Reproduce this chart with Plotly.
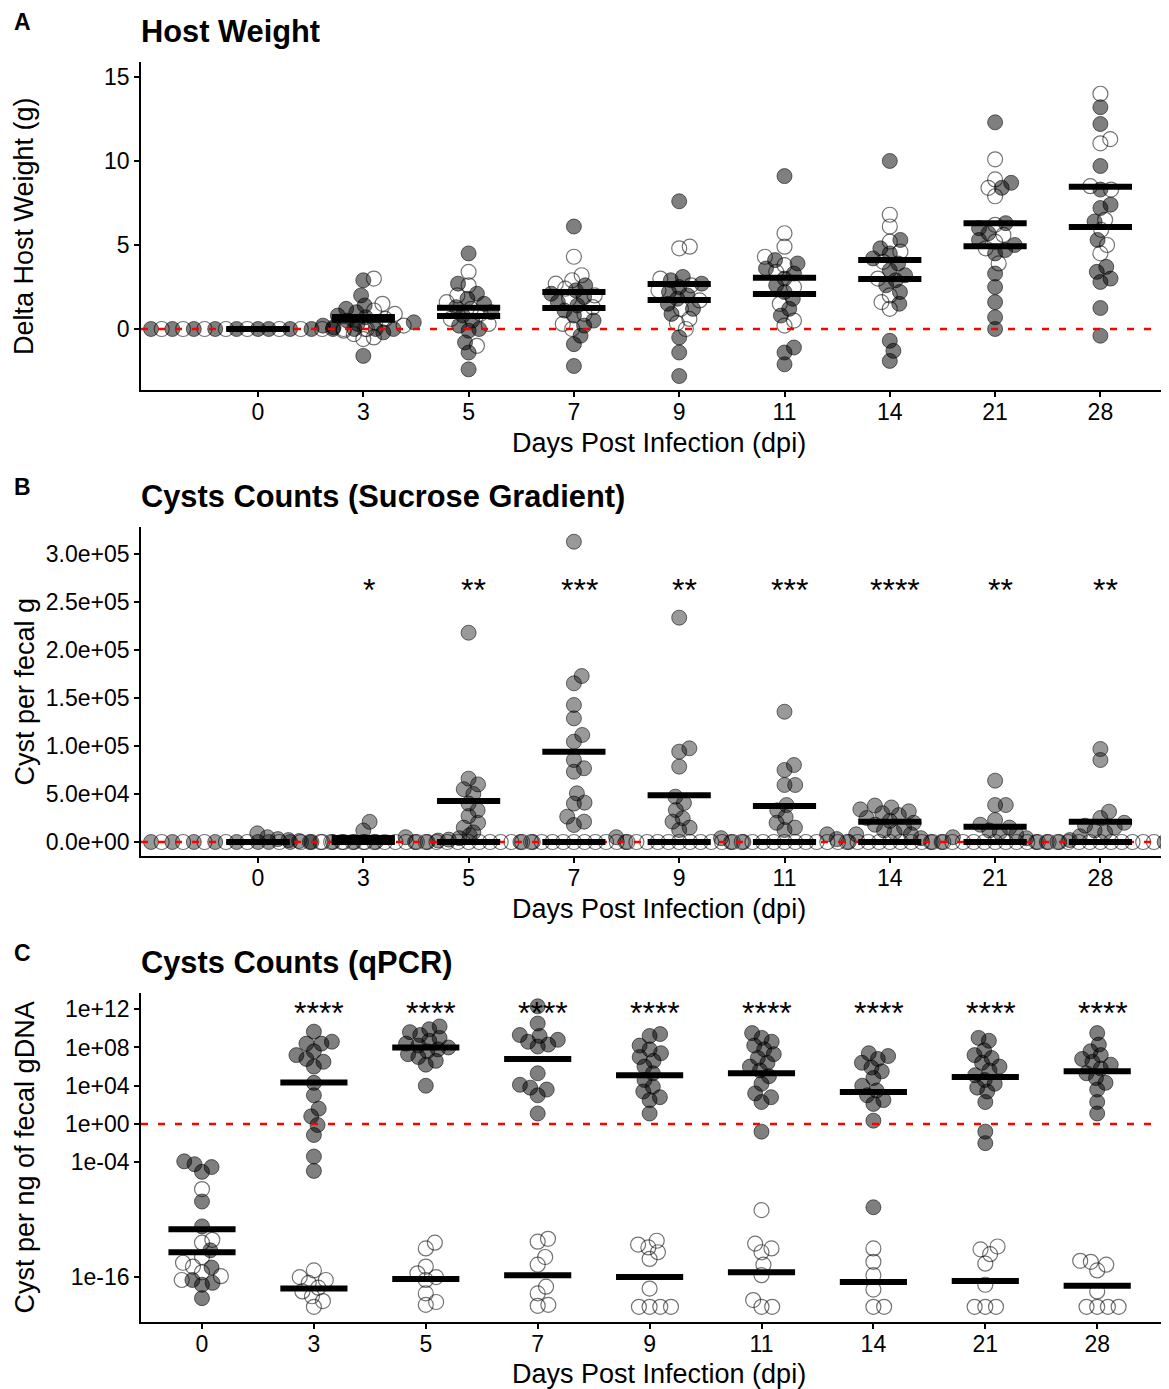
import math
import plotly.graph_objects as go

# ---------------- data ----------------
DAYS = ["0", "3", "5", "7", "9", "11", "14", "21", "28"]

# Panel A: delta host weight (g)
weight_infected = [
    [0] * 12,
    [2.9, 2.0, 1.4, 1.2, 1.0, 0.8, 0.7, 0.5, 0.4, 0.3, 0.2, 0.1, 0.0, -0.2, -1.6],
    [4.5, 2.7, 2.1, 1.8, 1.5, 1.3, 1.0, 0.8, 0.5, 0.2, 0.0, -0.1, -0.8, -1.4, -2.4],
    [6.1, 2.6, 2.3, 2.1, 1.9, 1.6, 1.4, 1.1, 0.8, 0.5, 0.2, -0.4, -0.9, -2.2],
    [7.6, 3.1, 2.9, 2.7, 2.5, 2.2, 2.0, 1.8, 1.5, 1.2, 0.9, -0.5, -1.4, -2.8],
    [9.1, 4.1, 3.9, 3.6, 3.3, 3.0, 2.6, 2.2, 1.8, 1.2, 0.8, -1.1, -1.4, -2.1],
    [10.0, 5.3, 4.8, 4.5, 4.2, 3.9, 3.5, 3.2, 2.9, 2.6, 2.2, 1.5, -0.7, -1.3, -1.9],
    [12.3, 8.7, 8.4, 6.3, 6.0, 5.7, 5.3, 5.0, 4.7, 4.5, 3.3, 2.5, 1.6, 0.7, 0.0],
    [13.2, 12.2, 9.7, 8.3, 7.4, 7.2, 6.4, 5.3, 3.7, 3.4, 3.0, 2.8, 1.25, -0.4],
]
weight_uninfected = [
    [0] * 10,
    [3.0, 1.5, 1.1, 0.9, 0.6, 0.4, 0.2, 0.0, -0.1, -0.3, -0.5, -0.6],
    [3.4, 2.6, 2.0, 1.6, 1.2, 0.9, 0.6, 0.3, -1.0],
    [4.3, 3.2, 2.9, 2.7, 2.4, 2.0, 1.8, 1.3, 0.9, 0.3, 0.0],
    [4.8, 4.9, 3.0, 2.6, 2.3, 1.7, 1.2, 0.6, 0.35, 0.0],
    [5.7, 4.9, 4.3, 3.8, 3.4, 2.5, 1.5, 0.5, 0.2],
    [6.8, 6.1, 5.2, 4.6, 4.0, 3.0, 2.0, 1.6, 1.2],
    [10.1, 8.9, 8.4, 7.9, 6.2, 5.6, 5.2, 4.8, 3.9],
    [14.0, 11.3, 11.05, 8.5, 8.3, 6.5, 5.9, 5.0, 4.5],
]
weight_mean_infected = [0, 0.55, 0.77, 1.25, 1.73, 2.08, 2.98, 4.93, 6.07]
weight_mean_uninfected = [0, 0.72, 1.27, 2.2, 2.68, 3.05, 4.1, 6.3, 8.47]

# Panel B: cysts per fecal g (sucrose gradient)
cyst_infected = [
    [0] * 12,
    [21000, 12000, 9000, 7000, 5000, 4000, 3000, 2500, 2000, 1500, 1000, 0, 0],
    [218000, 66000, 60000, 55000, 50000, 40000, 33000, 27000, 20000, 15000, 10000, 5000, 0, 0],
    [312800, 172900, 165300, 142700, 128800, 111500, 104500, 85400, 76800, 73200,
     50700, 41000, 40000, 26400, 21200, 17700, 0],
    [233700, 97600, 94100, 78500, 47200, 40600, 33300, 24700, 21200, 15000, 12500, 5000, 0, 0],
    [135700, 80200, 75000, 59400, 59400, 38500, 33000, 26000, 20000, 15000, 12500, 8000, 4000, 0, 0],
    [38000, 36000, 34000, 32000, 30000, 28000, 25000, 22000, 20000, 18000, 15000, 12000,
     10000, 8000, 5000, 3000],
    [63900, 38500, 38500, 22900, 18000, 15000, 12000, 10000, 8000, 6000, 4000, 2000, 0, 0, 0],
    [96900, 85400, 31600, 25000, 20000, 17000, 15000, 12000, 10000, 8000, 6000, 4000, 2000, 0, 0, 0],
]
cyst_uninfected = [[0] * 10 for _ in DAYS]
cyst_mean_infected = [0, 4200, 42700, 94100, 48600, 37500, 21200, 16000, 21200]
cyst_mean_uninfected = [0] * 9
cyst_signif = ["", "*", "**", "***", "**", "***", "****", "**", "**"]

# Panel C: log10 cysts per ng of fecal gDNA (qPCR)
qpcr_log_infected = [
    [-3.9, -4.2, -4.5, -5.0, -8.1, -10.7, -13.2, -15.0, -16.3, -16.6, -16.8, -18.2],
    [9.65, 8.6, 8.4, 8.4, 7.6, 7.2, 6.8, 6.5, 6.0, 4.3, 3.0, 1.6, 0.8, -0.1, -1.15, -3.4, -4.9],
    [10.2, 9.9, 9.6, 9.3, 9.0, 8.7, 8.4, 8.2, 8.0, 7.8, 7.6, 7.3, 7.0, 6.6, 6.2, 4.0],
    [12.3, 10.5, 9.3, 9.2, 8.8, 8.6, 8.3, 8.1, 5.3, 4.1, 3.8, 3.6, 3.0, 1.1],
    [9.4, 9.2, 8.2, 7.8, 7.4, 7.0, 6.6, 6.0, 5.3, 4.6, 3.9, 3.4, 2.8, 2.5, 1.1],
    [9.5, 9.0, 8.6, 8.2, 7.8, 7.3, 6.9, 6.4, 6.0, 5.6, 5.0, 4.2, 3.2, 2.8, 2.3, -0.8],
    [7.4, 7.1, 6.8, 6.4, 5.9, 5.5, 4.8, 4.0, 3.5, 3.0, 2.5, 2.1, 0.35, -8.7],
    [9.0, 8.7, 7.7, 7.2, 6.9, 6.4, 6.0, 5.6, 5.1, 4.6, 4.2, 3.8, 3.4, 2.3, -0.8, -2.0],
    [9.5, 8.3, 7.6, 7.2, 6.8, 6.5, 6.2, 5.8, 5.3, 4.8, 4.3, 3.6, 2.3, 1.1],
]
qpcr_log_uninfected = [
    [-6.8, -12.1, -12.4, -13.9, -14.5, -14.9, -15.5, -15.9, -16.3],
    [-15.3, -16.0, -16.3, -16.6, -17.1, -17.5, -18.0, -18.5, -19.1],
    [-12.4, -13.0, -14.9, -15.6, -16.0, -16.3, -17.7, -18.6, -18.9],
    [-12.0, -12.3, -13.9, -14.7, -17.0, -17.7, -18.9, -19.0],
    [-12.2, -12.6, -12.9, -13.4, -14.1, -17.2, -19.1, -19.1, -19.1, -19.1],
    [-9.0, -12.5, -13.0, -13.4, -14.7, -15.8, -18.4, -19.1, -19.1],
    [-13.0, -14.4, -15.8, -17.3, -19.1, -19.1],
    [-12.8, -13.1, -13.6, -14.6, -16.8, -19.1, -19.1, -19.1],
    [-14.3, -14.4, -14.7, -15.3, -17.5, -19.1, -19.1, -19.1, -19.1],
]
qpcr_log_mean_infected = [-11.0, 4.35, 8.0, 6.8, 5.1, 5.3, 3.35, 4.9, 5.5]
qpcr_log_mean_uninfected = [-13.4, -17.2, -16.2, -15.8, -16.0, -15.5, -16.5, -16.4, -16.9]
qpcr_signif = [""] + ["****"] * 8

# ---------------- layout geometry (screen pixels) ----------------
PAGE = 8                      # default body margin of the html page
SCREEN_W, SCREEN_H = 1169, 1389
FW, FH = SCREEN_W - PAGE, SCREEN_H - PAGE
PLOT_L, PLOT_R = 141, SCREEN_W    # screen x of plot area
PLOT_T, PLOT_B = 62, 1322         # screen y of plot area (all panels)
ML = PLOT_L - PAGE
MT = PLOT_T - PAGE
MR = 0
MB = FH - (PLOT_B - PAGE)
PW = FW - ML - MR
PH = FH - MT - MB
FONT = "Liberation Sans, Arial, sans-serif"


def px_x(p):
    return (p - PLOT_L) / PW


def px_y(p):
    return (PLOT_B - p) / PH


def xrange_for(x0_screen, step):
    a = (PLOT_L - x0_screen) / step
    return [a, a + PW / step]


panels = [
    dict(name="A", title="Host Weight", top=62, bottom=390,
         xr=xrange_for(258, 105.3), yr=[-3.63, 15.89], log=False,
         ytitle="Delta Host Weight (g)",
         inf=weight_infected, uninf=weight_uninfected,
         minf=weight_mean_infected, muninf=weight_mean_uninfected,
         ref=0, tickvals=[0, 5, 10, 15], ticktext=["0", "5", "10", "15"],
         signif=None, sig_y=None, fill="rgba(0,0,0,0.5)", xt=443),
    dict(name="B", title="Cysts Counts (Sucrose Gradient)", top=527, bottom=856,
         xr=xrange_for(258, 105.3), yr=[-14583, 328125], log=False,
         ytitle="Cyst per fecal g",
         inf=cyst_infected, uninf=cyst_uninfected,
         minf=cyst_mean_infected, muninf=cyst_mean_uninfected,
         ref=0, tickvals=[0, 5e4, 1e5, 1.5e5, 2e5, 2.5e5, 3e5],
         ticktext=["0.0e+00", "5.0e+04", "1.0e+05", "1.5e+05", "2.0e+05", "2.5e+05", "3.0e+05"],
         signif=cyst_signif, sig_y=262000, fill="rgba(0,0,0,0.4)", xt=909),
    dict(name="C", title="Cysts Counts (qPCR)", top=993, bottom=1322,
         xr=xrange_for(202, 111.9), yr=[-20.69, 13.69], log=True,
         ytitle="Cyst per ng of fecal gDNA",
         inf=qpcr_log_infected, uninf=qpcr_log_uninfected,
         minf=qpcr_log_mean_infected, muninf=qpcr_log_mean_uninfected,
         ref=0, tickvals=[1e-16, 1e-4, 1, 1e4, 1e8, 1e12],
         ticktext=["1e-16", "1e-04", "1e+00", "1e+04", "1e+08", "1e+12"],
         signif=qpcr_signif, sig_y=11.6, fill="rgba(0,0,0,0.5)", xt=1374),
]

SEP = 10.7  # beeswarm separation in px


def swarm(ypx, d):
    n = len(ypx)
    order = sorted(range(n), key=lambda i: ypx[i])
    placed = []
    xs = [0.0] * n
    for i in order:
        y = ypx[i]
        cands = [0.0]
        for (qx, qy) in placed:
            dy = y - qy
            if abs(dy) < d:
                dx = math.sqrt(d * d - dy * dy)
                cands += [qx + dx, qx - dx]
        cands.sort(key=lambda c: (round(abs(c), 6), -c))
        chosen = cands[-1]
        for c in cands:
            if all((c - qx) ** 2 + (y - qy) ** 2 >= d * d - 1e-6 for qx, qy in placed):
                chosen = c
                break
        xs[i] = chosen
        placed.append((chosen, y))
    return xs


fig = go.Figure()
annotations = []
layout = {}

EDGE = "rgba(0,0,0,0.55)"

for k, p in enumerate(panels):
    sfx = "" if k == 0 else str(k + 1)
    xa, ya = "x" + sfx, "y" + sfx
    height_px = p["bottom"] - p["top"]
    px_per_x = PW / (p["xr"][1] - p["xr"][0])
    px_per_y = height_px / (p["yr"][1] - p["yr"][0])

    fx, fy, ox, oy = [], [], [], []
    for i in range(len(DAYS)):
        pts = []
        a, b = p["inf"][i], p["uninf"][i]
        for j in range(0, max(len(a), len(b)), 2):
            pts += [(v, "f") for v in a[j:j + 2]]
            pts += [(v, "o") for v in b[j:j + 2]]
        ypx = [v * px_per_y for v, _ in pts]
        offs = swarm(ypx, SEP)
        for (v, g), off in zip(pts, offs):
            xv = i + off / px_per_x
            yv = 10 ** v if p["log"] else v
            if g == "f":
                fx.append(xv); fy.append(yv)
            else:
                ox.append(xv); oy.append(yv)

    fig.add_trace(go.Scatter(x=fx, y=fy, mode="markers", xaxis=xa, yaxis=ya,
                             marker=dict(size=15, color=p["fill"], line=dict(color=EDGE, width=1)),
                             showlegend=False, hoverinfo="skip"))
    fig.add_trace(go.Scatter(x=ox, y=oy, mode="markers", xaxis=xa, yaxis=ya,
                             marker=dict(size=15, color="rgba(255,255,255,0)",
                                         line=dict(color=EDGE, width=1.2)),
                             showlegend=False, hoverinfo="skip"))
    # reference line
    refv = 10 ** p["ref"] if p["log"] else p["ref"]
    fig.add_trace(go.Scatter(x=p["xr"], y=[refv, refv], mode="lines", xaxis=xa, yaxis=ya,
                             line=dict(color="#FF0000", width=2.4, dash="7px,10px"),
                             showlegend=False, hoverinfo="skip"))
    # mean bars
    for means in (p["minf"], p["muninf"]):
        bx, by = [], []
        for i, m in enumerate(means):
            mv = 10 ** m if p["log"] else m
            bx += [i - 0.3, i + 0.3, None]
            by += [mv, mv, None]
        fig.add_trace(go.Scatter(x=bx, y=by, mode="lines", xaxis=xa, yaxis=ya,
                                 line=dict(color="black", width=6),
                                 showlegend=False, hoverinfo="skip"))

    dom = [px_y(p["bottom"]), px_y(p["top"])]
    axis_common = dict(showline=True, linecolor="black", linewidth=1.6, showgrid=False,
                       zeroline=False, ticks="outside", ticklen=5, tickwidth=1.6,
                       tickcolor="black", tickfont=dict(family=FONT, size=23, color="black"))
    layout["xaxis" + sfx] = dict(domain=[0, 1], anchor=ya, range=p["xr"],
                                 tickmode="array", tickvals=list(range(len(DAYS))),
                                 ticktext=DAYS, ticklabelstandoff=-4, **axis_common)
    yax = dict(domain=dom, anchor=xa, tickmode="array", tickvals=p["tickvals"],
               ticktext=p["ticktext"], **axis_common)
    if p["log"]:
        yax["type"] = "log"
    yax["range"] = p["yr"]
    layout["yaxis" + sfx] = yax

    # significance stars
    if p["signif"]:
        for i, s in enumerate(p["signif"]):
            if s:
                annotations.append(dict(x=i + 0.05, y=p["sig_y"], xref=xa, yref=ya, text=s,
                                        showarrow=False, xanchor="center", yanchor="middle",
                                        font=dict(family=FONT, size=32, color="black")))

    # titles and labels
    annotations.append(dict(x=px_x(22), y=px_y(p["top"] - 40), xref="paper", yref="paper",
                            text="<b>%s</b>" % p["name"], showarrow=False,
                            xanchor="center", yanchor="middle",
                            font=dict(family=FONT, size=23, color="black")))
    annotations.append(dict(x=px_x(139), y=px_y(p["top"] - 31), xref="paper", yref="paper",
                            text="<b>%s</b>" % p["title"], showarrow=False,
                            xanchor="left", yanchor="middle",
                            font=dict(family=FONT, size=30.8, color="black")))
    annotations.append(dict(x=px_x(659), y=px_y(p["xt"]), xref="paper", yref="paper",
                            text="Days Post Infection (dpi)", showarrow=False,
                            xanchor="center", yanchor="middle",
                            font=dict(family=FONT, size=27, color="black")))
    annotations.append(dict(x=px_x(24), y=px_y((p["top"] + p["bottom"]) / 2),
                            xref="paper", yref="paper", text=p["ytitle"], showarrow=False,
                            textangle=-90, xanchor="center", yanchor="middle",
                            font=dict(family=FONT, size=27, color="black")))

fig.update_layout(width=FW, height=FH, margin=dict(l=ML, r=MR, t=MT, b=MB),
                  plot_bgcolor="white", paper_bgcolor="white",
                  annotations=annotations, showlegend=False,
                  font=dict(family=FONT, color="black"), **layout)

fig.write_html("out.html")
